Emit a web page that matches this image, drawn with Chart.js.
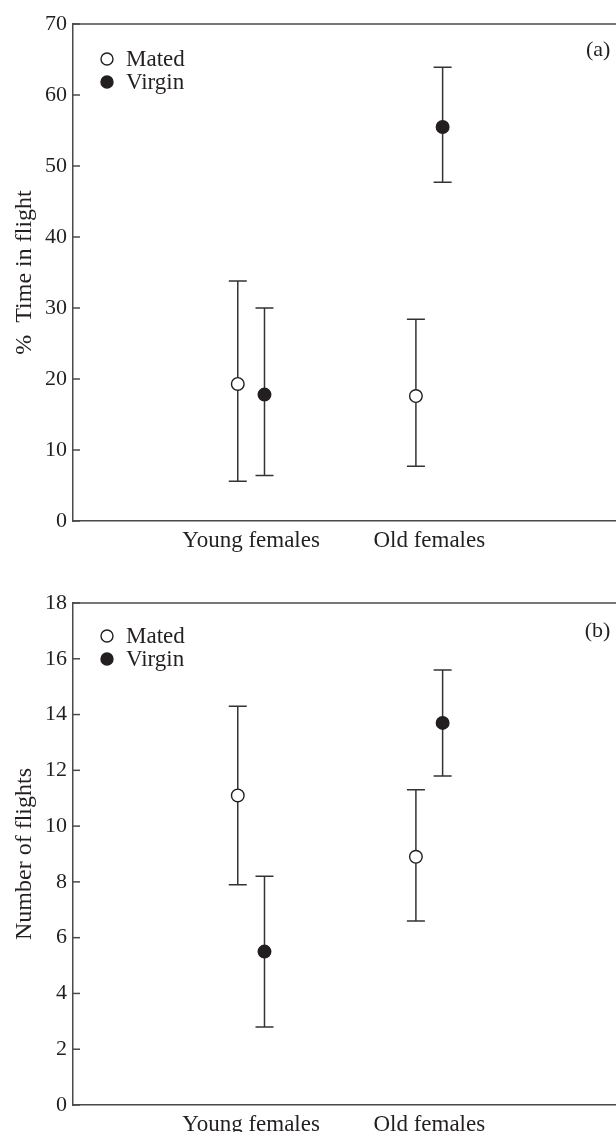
<!DOCTYPE html>
<html>
<head>
<meta charset="utf-8">
<script src="https://cdn.jsdelivr.net/npm/chart.js@4.4.1/dist/chart.umd.min.js"></script>
<style>
    html, body { margin: 0; padding: 0; background: #fff; overflow: hidden; }
    .panel { position: relative; width: 624px; }
    #wrapA { height: 560px; }
    #wrapB { height: 572px; }
</style>
</head>
<body>
<div class="panel" id="wrapA"><canvas id="chartA"></canvas></div>
<div class="panel" id="wrapB"><canvas id="chartB"></canvas></div>

<script>
// ================= DATA =================
const groups = ["Young females", "Old females"];
const seriesNames = ["Mated", "Virgin"];

// (a) % time in flight
const timeTicks = [0, 10, 20, 30, 40, 50, 60, 70];
const timeMated = [19.3, 17.6];
const timeMatedLow = [5.6, 7.7];
const timeMatedHigh = [33.8, 28.4];
const timeVirgin = [17.8, 55.5];
const timeVirginLow = [6.4, 47.7];
const timeVirginHigh = [30.0, 63.9];

// (b) number of flights
const flightTicks = [0, 2, 4, 6, 8, 10, 12, 14, 16, 18];
const flightsMated = [11.1, 8.9];
const flightsMatedLow = [7.9, 6.6];
const flightsMatedHigh = [14.3, 11.3];
const flightsVirgin = [5.5, 13.7];
const flightsVirginLow = [2.8, 11.8];
const flightsVirginHigh = [8.2, 15.6];

const INK = "#231f20";
const AXIS = "#4a4a4a";
const FONT = "'Liberation Serif', 'Times New Roman', serif";

Chart.defaults.font.family = FONT;
Chart.defaults.font.size = 22;
Chart.defaults.color = INK;


// ================= DECORATION PLUGIN =================
// top frame line, inward ticks, error bars, legend and panel letter
const panelDecor = {
    id: "panelDecor",
    beforeDatasetsDraw(chart) {
        const { ctx, chartArea, scales } = chart;
        const x = scales.x, y = scales.y;
        ctx.save();
        ctx.strokeStyle = AXIS;
        ctx.lineWidth = 1.5;

        ctx.beginPath();
        ctx.moveTo(chartArea.left, chartArea.top);
        ctx.lineTo(chartArea.right, chartArea.top);
        ctx.stroke();

        y.ticks.forEach(t => {
            const py = y.getPixelForValue(t.value);
            ctx.beginPath();
            ctx.moveTo(chartArea.left, py);
            ctx.lineTo(chartArea.left + 7, py);
            ctx.stroke();
        });

        // error bars
        ctx.strokeStyle = "#333";
        chart.data.datasets.forEach(ds => {
            ds.data.forEach((p, i) => {
                const px = x.getPixelForValue(p.x);
                const top = y.getPixelForValue(ds.high[i]);
                const bot = y.getPixelForValue(ds.low[i]);
                ctx.beginPath();
                ctx.moveTo(px, top);
                ctx.lineTo(px, bot);
                ctx.moveTo(px - 9, top);
                ctx.lineTo(px + 9, top);
                ctx.moveTo(px - 9, bot);
                ctx.lineTo(px + 9, bot);
                ctx.stroke();
            });
        });
        ctx.restore();
    },
    afterDraw(chart) {
        const { ctx, chartArea } = chart;
        const opts = chart.options.plugins.panelDecor;
        ctx.save();
        ctx.font = "23px " + FONT;
        ctx.textBaseline = "middle";

        chart.data.datasets.forEach((ds, i) => {
            const ly = chartArea.top + opts.legendTop + i * 23;
            ctx.beginPath();
            ctx.arc(chartArea.left + 34, ly, 6, 0, Math.PI * 2);
            ctx.fillStyle = ds.backgroundColor;
            ctx.fill();
            ctx.lineWidth = 1.4;
            ctx.strokeStyle = INK;
            ctx.stroke();
            ctx.fillStyle = INK;
            ctx.textAlign = "left";
            ctx.fillText(ds.label, chartArea.left + 53, ly + 1);
        });

        ctx.font = "22px " + FONT;
        ctx.textAlign = "right";
        ctx.fillText(opts.letter, chartArea.right - 6, chartArea.top + opts.letterTop);
        ctx.restore();
    }
};


// ================= BUILD =================
function points(values, shift) {
    return values.map((v, i) => ({ x: i + 1 + shift, y: v }));
}

function makePanel(canvasId, cfg) {
    return new Chart(document.getElementById(canvasId), {
        type: "scatter",
        data: {
            datasets: [{
                label: seriesNames[0],
                data: points(cfg.mated, -0.075),
                low: cfg.matedLow,
                high: cfg.matedHigh,
                backgroundColor: "#ffffff",
                borderColor: INK,
                pointRadius: 6.3,
                pointBorderWidth: 1.4
            }, {
                label: seriesNames[1],
                data: points(cfg.virgin, 0.075),
                low: cfg.virginLow,
                high: cfg.virginHigh,
                backgroundColor: INK,
                borderColor: INK,
                pointRadius: 6.3,
                pointBorderWidth: 1.4
            }]
        },
        options: {
            responsive: true,
            maintainAspectRatio: false,
            animation: false,
            layout: { padding: { top: cfg.padTop, right: 0, left: 0, bottom: 0 } },
            plugins: {
                legend: { display: false },
                tooltip: { enabled: false },
                panelDecor: { letter: cfg.letter, legendTop: cfg.legendTop, letterTop: cfg.letterTop }
            },
            scales: {
                x: {
                    type: "linear",
                    min: 0,
                    max: 3.05,
                    afterBuildTicks: scale => {
                        scale.ticks = groups.map((g, i) => ({ value: i + 1 }));
                    },
                    afterFit: scale => { scale.height = cfg.xHeight; },
                    grid: { display: false, drawTicks: false },
                    border: { display: true, color: AXIS, width: 1.5 },
                    ticks: {
                        padding: 6,
                        maxRotation: 0,
                        autoSkip: false,
                        font: { size: 23 },
                        callback: (v) => groups[Math.round(v) - 1]
                    }
                },
                y: {
                    min: cfg.ticks[0],
                    max: cfg.ticks[cfg.ticks.length - 1],
                    afterBuildTicks: scale => {
                        scale.ticks = cfg.ticks.map(v => ({ value: v }));
                    },
                    afterFit: scale => { scale.width = 73; },
                    grid: { display: false, drawTicks: false },
                    border: { display: true, color: AXIS, width: 1.5 },
                    ticks: { padding: 6, font: { size: 22 } },
                    title: {
                        display: true,
                        text: cfg.title,
                        font: { size: 24 },
                        padding: { top: 10, bottom: 0 }
                    }
                }
            }
        },
        plugins: [panelDecor]
    });
}

makePanel("chartA", {
    mated: timeMated, matedLow: timeMatedLow, matedHigh: timeMatedHigh,
    virgin: timeVirgin, virginLow: timeVirginLow, virginHigh: timeVirginHigh,
    ticks: timeTicks,
    title: "%  Time in flight",
    letter: "(a)",
    padTop: 24, xHeight: 39,
    legendTop: 35, letterTop: 26
});

makePanel("chartB", {
    mated: flightsMated, matedLow: flightsMatedLow, matedHigh: flightsMatedHigh,
    virgin: flightsVirgin, virginLow: flightsVirginLow, virginHigh: flightsVirginHigh,
    ticks: flightTicks,
    title: "Number of flights",
    letter: "(b)",
    padTop: 43, xHeight: 27,
    legendTop: 33, letterTop: 28
});
</script>
</body>
</html>
